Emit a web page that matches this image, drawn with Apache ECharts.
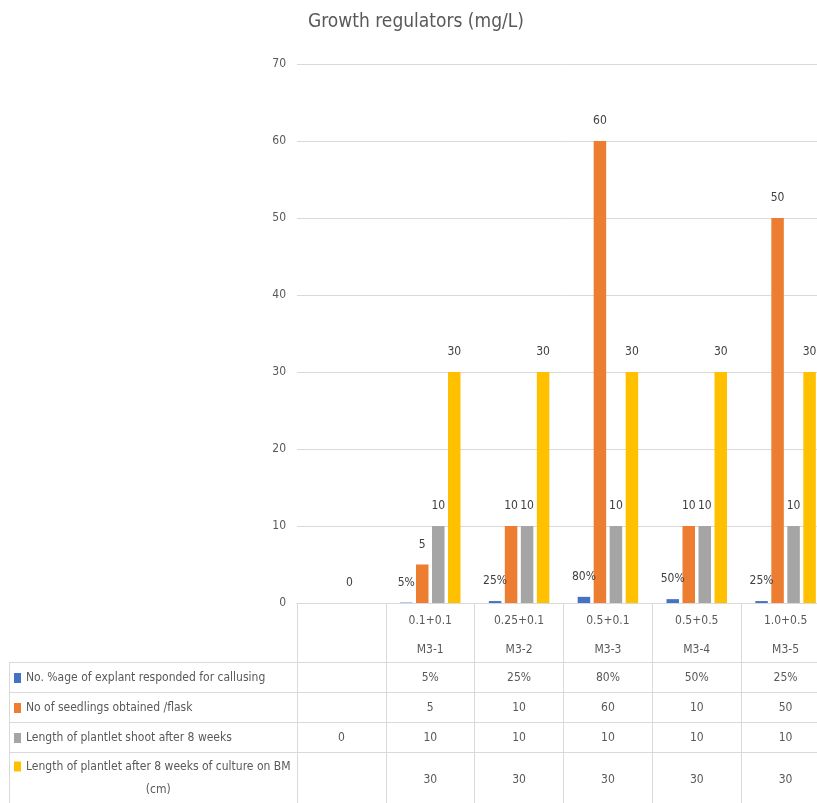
<!DOCTYPE html>
<html><head><meta charset="utf-8">
<script src="https://cdn.jsdelivr.net/npm/echarts@6/dist/echarts.min.js"></script>
<style>html,body{margin:0;padding:0;background:#fff;overflow:hidden;width:817px;height:803px}#c{width:830px;height:803px}</style>
</head><body><div id="c"></div>
<script>
// ---- data ----
const doses = ['', '0.1+0.1', '0.25+0.1', '0.5+0.1', '0.5+0.5', '1.0+0.5'];
const codes = ['', 'M3-1', 'M3-2', 'M3-3', 'M3-4', 'M3-5'];
const seriesNames = [
  'No. %age of explant responded for callusing',
  'No of seedlings obtained /flask',
  'Length of plantlet shoot after 8 weeks',
  'Length of plantlet after 8 weeks of culture on BM (cm)'
];
const callusPct = [null, 0.05, 0.25, 0.80, 0.50, 0.25];
const seedlings = [null, 5, 10, 60, 10, 50];
const shootLength = [0, 10, 10, 10, 10, 10];
const plantletLength = [null, 30, 30, 30, 30, 30];
const yMin = 0, yMax = 70, yStep = 10;
const titleText = 'Growth regulators (mg/L)';

// ---- styling ----
const FONT = "'DejaVu Sans Condensed', 'Liberation Sans Narrow', Roboto, sans-serif";
const FS = 12;
const COLORS = ['#4472C4', '#ED7D31', '#A5A5A5', '#FFC000'];
const GRIDC = '#D9D9D9';
const TXT = '#595959';
const categories = doses.map((d, i) => d === '' ? '' : d + '\n' + codes[i]);
const pct = v => v == null ? '' : Math.round(v * 100) + '%';
const num = v => v == null ? '' : String(v);
const rows = [
  {values: callusPct, fmt: pct},
  {values: seedlings, fmt: num},
  {values: shootLength, fmt: num},
  {values: plantletLength, fmt: num}
];

const GRID_LEFT = 297, GRID_BOTTOM_Y = 603, HEADER_H = 59, ROW_H = 30, LAST_H = 56;

const xAxes = [{
  type: 'category', data: categories, position: 'bottom',
  axisLine: {show: true, onZero: false, lineStyle: {color: GRIDC, width: 1}},
  axisTick: {show: true, length: HEADER_H, interval: 0, lineStyle: {color: GRIDC}},
  axisLabel: {interval: 0, margin: 3, color: TXT, fontFamily: FONT, fontSize: FS, lineHeight: 29},
  splitLine: {show: false}
}];
rows.forEach((r, k) => {
  const isLast = k === rows.length - 1;
  xAxes.push({
    type: 'category', data: categories, position: 'bottom',
    offset: HEADER_H + k * ROW_H,
    axisLine: {show: true, onZero: false, lineStyle: {color: GRIDC, width: 1}},
    axisTick: {show: true, length: isLast ? LAST_H : ROW_H, interval: 0, lineStyle: {color: GRIDC}},
    axisLabel: {interval: 0, margin: isLast ? 21 : 9, color: TXT, fontFamily: FONT, fontSize: FS, lineHeight: 14,
      formatter: (v, i) => r.fmt(r.values[i])},
    splitLine: {show: false}
  });
});

const labelBase = {show: true, position: 'top', distance: 13, color: '#404040', fontFamily: FONT, fontSize: FS, lineHeight: 14};
const seriesData = [callusPct, seedlings, shootLength, plantletLength];
const series = seriesData.map((d, k) => ({
  name: seriesNames[k], type: 'bar', data: d, xAxisIndex: 0,
  barWidth: 12.5, barGap: '28%',
  itemStyle: {color: COLORS[k]},
  label: Object.assign({}, labelBase, {formatter: p => (k === 0 ? pct(p.value) : num(p.value))}),
  emphasis: {disabled: true}
}));

const legendTops = [670, 700, 730, 732];
const legends = seriesNames.map((n, k) => {
  const base = {
    data: [n], orient: 'vertical', left: 14, top: legendTops[k], padding: 0,
    itemWidth: 7, itemHeight: 10, icon: 'rect', selectedMode: false,
    textStyle: {color: TXT, fontFamily: FONT, fontSize: FS, lineHeight: 16}
  };
  if (k === 3) {
    base.formatter = name => {
      const cut = name.lastIndexOf(' (');
      return '{a| }\n{a|' + name.slice(0, cut) + '}\n{b|' + name.slice(cut + 1) + '}';
    };
    base.textStyle.rich = {
      a: {color: TXT, fontFamily: FONT, fontSize: FS, lineHeight: 23},
      b: {color: TXT, fontFamily: FONT, fontSize: FS, lineHeight: 23, align: 'center'}
    };
  }
  return base;
});

// left column borders of the data table
const leftLines = [];
const tableTop = GRID_BOTTOM_Y + HEADER_H;
for (let k = 0; k < rows.length; k++) {
  const y = tableTop + k * ROW_H + 0.5;
  leftLines.push({type: 'line', shape: {x1: 9, y1: y, x2: GRID_LEFT, y2: y}, style: {stroke: GRIDC, lineWidth: 1}, silent: true});
}
leftLines.push({type: 'line', shape: {x1: 9.5, y1: tableTop, x2: 9.5, y2: 810}, style: {stroke: GRIDC, lineWidth: 1}, silent: true});

const chart = echarts.init(document.getElementById('c'), null, {renderer: 'canvas'});
chart.setOption({
  animation: false,
  backgroundColor: '#fff',
  title: {text: titleText, left: 308, top: 13, padding: 0,
    textStyle: {color: TXT, fontFamily: FONT, fontSize: 19, fontWeight: 'normal'}},
  legend: legends,
  grid: {left: GRID_LEFT, right: 0, top: 64, bottom: 803 - GRID_BOTTOM_Y, containLabel: false},
  xAxis: xAxes,
  yAxis: {type: 'value', min: yMin, max: yMax, interval: yStep,
    axisLine: {show: false}, axisTick: {show: false},
    axisLabel: {margin: 11, color: TXT, fontFamily: FONT, fontSize: FS},
    splitLine: {lineStyle: {color: GRIDC, width: 1}}},
  series: series,
  graphic: leftLines
});
</script>
</body></html>
